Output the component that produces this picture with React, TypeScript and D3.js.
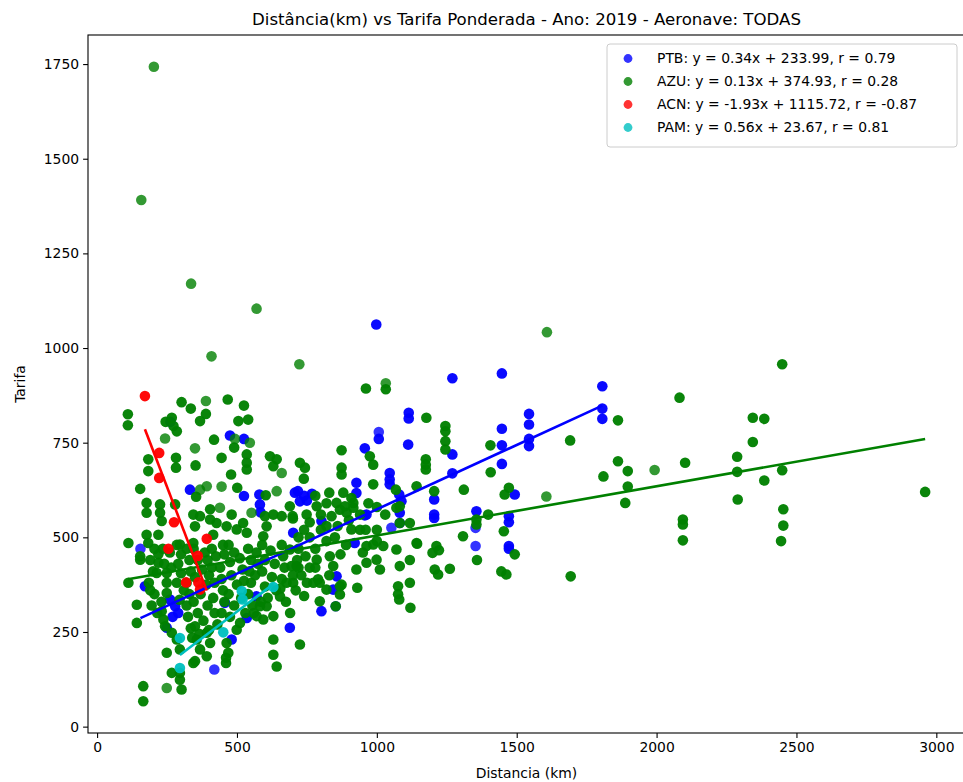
import * as d3 from "d3";
import { useEffect, useRef } from "react";

// [distancia (km), tarifa, registros] - registros omitido = 2 (rota repetida)
const ptbPoints: number[][] = [
    [998, 1062], [1270, 920], [1447, 933], [1806, 899], [1806, 840], [1806, 813], [1544, 826], [1544, 798],
    [1544, 760], [1544, 741], [1447, 787], [1447, 743], [1447, 694], [1114, 829], [1114, 814], [1007, 778, 1],
    [1007, 760], [1112, 745], [1270, 719], [1270, 669], [957, 735], [475, 769], [525, 760], [262, 805],
    [332, 626], [525, 609], [580, 613], [582, 587], [584, 566], [707, 618], [718, 622], [740, 610],
    [768, 615], [725, 595], [750, 597], [701, 512], [155, 470, 1], [171, 371], [261, 336], [279, 318],
    [290, 300], [249, 261], [270, 290], [419, 151, 1], [689, 261], [802, 305], [853, 318, 1], [856, 397],
    [844, 362], [570, 344], [535, 287], [457, 327], [481, 230], [927, 644], [927, 617], [1046, 670],
    [1046, 653], [1046, 640], [1080, 613], [1088, 595], [1082, 565], [1082, 538], [1052, 525, 1], [963, 560],
    [921, 485], [1205, 600], [1205, 560], [1205, 551], [1356, 569], [1353, 477, 1], [1353, 525, 1], [1472, 556],
    [1472, 540], [1472, 477], [1472, 470], [1493, 613], [802, 543], [957, 558],
];

const azuPoints: number[][] = [
    // outliers / right side
    [203, 1743, 1], [158, 1391, 1], [336, 1170, 1], [570, 1104, 1], [409, 978, 1], [723, 957, 1], [1608, 1042, 1],
    [2449, 957], [2082, 869], [961, 893], [1032, 907, 1], [1032, 891], [1177, 816], [1862, 809], [2344, 816],
    [2385, 813], [2344, 752], [1245, 794], [1245, 780], [1245, 754], [1245, 732], [1691, 756], [1406, 743],
    [2288, 713], [2288, 673], [2449, 677], [2385, 650], [2290, 600], [2453, 574], [2453, 531], [2445, 490],
    [2094, 547], [2094, 534], [2094, 492], [2102, 697], [1993, 678, 1], [1862, 701], [1897, 675], [1897, 634],
    [1888, 591], [1810, 661], [1407, 672], [1693, 397], [1606, 608, 1], [2960, 620],
    // left upper
    [110, 825], [110, 796], [302, 857], [335, 840], [389, 860, 1], [467, 864], [525, 848], [389, 826],
    [368, 807], [245, 805], [267, 816], [273, 794], [285, 780], [505, 807], [540, 811], [243, 761, 1],
    [418, 758], [493, 760, 1], [546, 750, 1], [350, 735, 1], [490, 737], [535, 719], [535, 697], [535, 679],
    [618, 714], [642, 706], [630, 688], [183, 706], [183, 675], [282, 710], [282, 684], [445, 710],
    [352, 690], [660, 670, 1], [479, 666], [725, 697], [743, 684], [739, 655], [874, 730], [874, 684],
    [874, 666], [975, 714], [987, 692], [1175, 706], [1175, 692], [1175, 679], [154, 628], [368, 626, 1],
    [392, 635, 1], [354, 607], [445, 634, 1], [501, 631], [603, 611], [642, 622, 1], [177, 591], [177, 565],
    [225, 587], [225, 565], [279, 587], [231, 543], [344, 560], [368, 556], [350, 529], [404, 574],
    [439, 578, 1], [404, 547], [481, 560], [463, 529], [499, 521], [427, 538], [415, 507], [522, 538],
    [535, 512], [552, 565, 1], [600, 556], [606, 529], [594, 503], [630, 560], [660, 556], [689, 582],
    [700, 550], [112, 485], [177, 507], [183, 485], [219, 507], [296, 481], [344, 485],
    // middle
    [830, 618], [856, 591], [886, 582], [699, 556], [749, 560], [785, 582], [838, 556], [868, 573],
    [892, 565], [916, 591], [880, 618], [909, 604], [916, 578], [909, 521], [987, 640], [1068, 626],
    [1142, 635], [1205, 622], [1311, 626], [1070, 578], [1118, 538], [1142, 485], [1308, 503], [1356, 547],
    [1356, 534], [1213, 477], [1398, 560], [1082, 582], [1082, 538], [713, 424], [701, 380], [785, 441],
    [796, 380], [844, 424], [832, 450], [874, 375], [868, 349], [796, 331], [927, 415], [963, 433],
    [999, 441], [1011, 415], [987, 481], [963, 477], [1023, 477], [930, 367], [1076, 371], [1076, 350],
    [1080, 336], [1120, 314], [1199, 459], [1222, 466], [1118, 440], [1207, 415], [1219, 402], [1261, 417],
    [1358, 440], [1454, 516], [1445, 410], [1463, 402], [1493, 455], [1472, 631], [1457, 613], [1144, 483],
    [853, 318], [820, 362], [868, 371], [773, 380], [790, 389], [1070, 468], [1082, 424], [1118, 380],
    [760, 500], [800, 520], [850, 500], [890, 480], [940, 520], [780, 470], [820, 490], [870, 455],
    [740, 520], [950, 460], [1000, 520], [1030, 560],
    [720, 500], [760, 540], [800, 560], [820, 530], [860, 530], [900, 545], [940, 560], [970, 590],
    [1000, 580], [780, 610], [820, 590], [960, 520], [1000, 490], [720, 420], [780, 420], [830, 400],
    // dense lower left
    [154, 450], [154, 441], [219, 455], [219, 433], [213, 406], [112, 380], [142, 322], [142, 274],
    [249, 406], [249, 380], [249, 353], [231, 305], [237, 283], [243, 265], [267, 248], [249, 195],
    [267, 142], [296, 124], [302, 98], [249, 102, 1], [165, 107], [165, 67], [630, 230], [630, 190],
    [642, 159], [392, 186], [350, 173], [461, 182], [461, 168], [725, 217], [689, 468], [695, 424],
    [677, 380], [654, 344], [606, 318], [630, 292], [594, 283], [463, 221], [469, 195], [356, 230],
    [392, 248], [404, 221], [368, 204], [499, 256], [511, 274], [570, 292], [582, 318], [285, 230],
    [296, 204], [344, 168], [296, 142],
    [285, 480], [300, 455], [290, 430], [300, 405], [285, 380], [310, 360], [295, 335],
    [345, 470], [360, 440], [375, 415], [350, 395], [390, 375], [370, 350], [345, 330], [395, 320],
    [360, 300], [380, 280], [350, 265], [400, 255], [365, 245], [410, 470], [395, 440], [410, 420],
    [470, 480], [490, 460], [475, 435], [510, 445], [520, 415], [480, 400], [500, 375], [525, 385],
    [470, 350], [515, 340], [490, 320], [530, 300], [475, 290],
    [590, 480], [620, 465], [600, 440], [635, 430], [590, 410], [625, 395], [600, 370], [640, 360],
    [610, 340], [585, 330],
    [720, 470], [745, 450], [715, 440], [760, 420], [730, 400], [750, 380], [710, 360], [740, 345],
    [190, 440], [200, 410], [185, 380], [205, 350], [195, 320], [215, 300], [230, 330], [240, 430],
    [260, 460], [265, 420], [235, 470], [205, 470], [190, 360],
    [320, 470], [330, 440], [335, 410], [320, 380], [330, 350], [320, 320], [325, 290], [335, 260],
    [340, 235], [385, 460], [400, 400], [420, 380], [415, 340], [420, 300], [430, 270], [425, 450], [440, 420],
    [450, 480], [455, 455], [445, 390], [450, 360], [455, 330], [445, 300], [540, 470], [550, 440],
    [545, 410], [550, 380], [540, 350], [555, 320], [560, 300],
    [570, 460], [575, 430], [565, 400], [660, 480], [665, 450], [670, 420], [660, 390], [655, 365],
    [675, 330], [700, 400], [690, 300],
];

const acnPoints: number[][] = [
    [171, 873], [222, 723], [222, 657], [275, 540], [255, 470], [392, 496], [360, 451], [318, 381],
    [362, 381], [368, 362],
];

const pamPoints: number[][] = [
    [296, 155], [296, 234], [451, 249], [517, 358], [520, 336], [630, 369],
];

const airlines = ["PTB", "AZU", "ACN", "PAM"];
const slopes = [0.34, 0.13, -1.93, 0.56];
const intercepts = [233.99, 374.93, 1115.72, 23.67];
const rValues = [0.79, 0.28, -0.87, 0.81];
const xTicks = [0, 500, 1000, 1500, 2000, 2500, 3000];
const yTicks = [0, 250, 500, 750, 1000, 1250, 1500, 1750];

const seriesColors = ["#0000ff", "#008000", "#ff0000", "#00bfbf"];

export default function App() {
    const ref = useRef<SVGSVGElement>(null);

    useEffect(() => {
        const svg = d3.select(ref.current);
        svg.selectAll("*").remove();

        const width = 963;
        const height = 782;
        const plot = { left: 88, right: 965, top: 35, bottom: 733 };
        const font = "DejaVu Sans, sans-serif";

        const series = [ptbPoints, azuPoints, acnPoints, pamPoints];
        const all = series.flat();

        // matplotlib style 5% margins
        const [x0, x1] = d3.extent(all, d => d[0]) as [number, number];
        const [y0, y1] = d3.extent(all, d => d[1]) as [number, number];
        const px = (x1 - x0) * 0.05;
        const py = (y1 - y0) * 0.05;

        const x = d3.scaleLinear().domain([x0 - px, x1 + px]).range([plot.left, plot.right]);
        const y = d3.scaleLinear().domain([y0 - py, y1 + py]).range([plot.bottom, plot.top]);

        svg.attr("width", width).attr("height", height);
        svg.append("rect").attr("width", width).attr("height", height).attr("fill", "white");

        // points
        const pts = svg.append("g");
        series.forEach((data, i) => {
            pts.selectAll(null)
                .data(data)
                .enter()
                .append("circle")
                .attr("cx", d => x(d[0]))
                .attr("cy", d => y(d[1]))
                .attr("r", 5.3)
                .attr("fill", seriesColors[i])
                .attr("fill-opacity", d => 1 - Math.pow(0.2, d[2] ?? 2));
        });

        // regression lines
        const line = d3.line<number>().x(d => x(d[0])).y(d => y(d[1]));
        series.forEach((data, i) => {
            const ext = d3.extent(data, d => d[0]) as [number, number];
            const seg = ext.map(v => [v, slopes[i] * v + intercepts[i]]);
            svg.append("path")
                .attr("d", line(seg as any))
                .attr("fill", "none")
                .attr("stroke", seriesColors[i])
                .attr("stroke-width", 2.6);
        });

        // frame
        svg.append("rect")
            .attr("x", plot.left)
            .attr("y", plot.top)
            .attr("width", plot.right - plot.left)
            .attr("height", plot.bottom - plot.top)
            .attr("fill", "none")
            .attr("stroke", "black")
            .attr("stroke-width", 1.1);

        // axes
        const xAxis = svg.append("g")
            .attr("transform", `translate(0,${plot.bottom})`)
            .call(d3.axisBottom(x).tickValues(xTicks).tickSize(4.9).tickPadding(4).tickFormat(d3.format("d")));
        const yAxis = svg.append("g")
            .attr("transform", `translate(${plot.left},0)`)
            .call(d3.axisLeft(y).tickValues(yTicks).tickSize(4.9).tickPadding(4).tickFormat(d3.format("d")));
        [xAxis, yAxis].forEach(a => {
            a.select(".domain").remove();
            a.selectAll("line").attr("stroke", "black").attr("stroke-width", 1.1);
            a.selectAll("text").attr("fill", "black").style("font-family", font).style("font-size", "13.9px");
        });

        // title + labels
        svg.append("text")
            .attr("x", (plot.left + plot.right) / 2)
            .attr("y", 25)
            .attr("text-anchor", "middle")
            .style("font-family", font)
            .style("font-size", "16.6px")
            .text("Distância(km) vs Tarifa Ponderada - Ano: 2019 - Aeronave: TODAS");

        svg.append("text")
            .attr("x", (plot.left + plot.right) / 2)
            .attr("y", 778)
            .attr("text-anchor", "middle")
            .style("font-family", font)
            .style("font-size", "13.9px")
            .text("Distancia (km)");

        svg.append("text")
            .attr("transform", `translate(25,${(plot.top + plot.bottom) / 2}) rotate(-90)`)
            .attr("text-anchor", "middle")
            .style("font-family", font)
            .style("font-size", "13.9px")
            .text("Tarifa");

        // legend
        const legend = svg.append("g").attr("transform", "translate(607,44)");
        legend.append("rect")
            .attr("width", 350)
            .attr("height", 103)
            .attr("rx", 3)
            .attr("fill", "white")
            .attr("fill-opacity", 0.8)
            .attr("stroke", "#cccccc");

        airlines.forEach((name, i) => {
            const row = legend.append("g").attr("transform", `translate(0,${14.5 + i * 23})`);
            row.append("circle").attr("cx", 21).attr("r", 4.4).attr("fill", seriesColors[i]).attr("fill-opacity", 0.8);
            row.append("text")
                .attr("x", 50)
                .attr("dy", "0.35em")
                .style("font-family", font)
                .style("font-size", "13.9px")
                .text(`${name}: y = ${slopes[i].toFixed(2)}x + ${intercepts[i].toFixed(2)}, r = ${rValues[i].toFixed(2)}`);
        });
    }, []);

    return (
        <div style={{ position: "absolute", left: 0, top: 0 }}>
            <svg ref={ref} />
        </div>
    );
}
